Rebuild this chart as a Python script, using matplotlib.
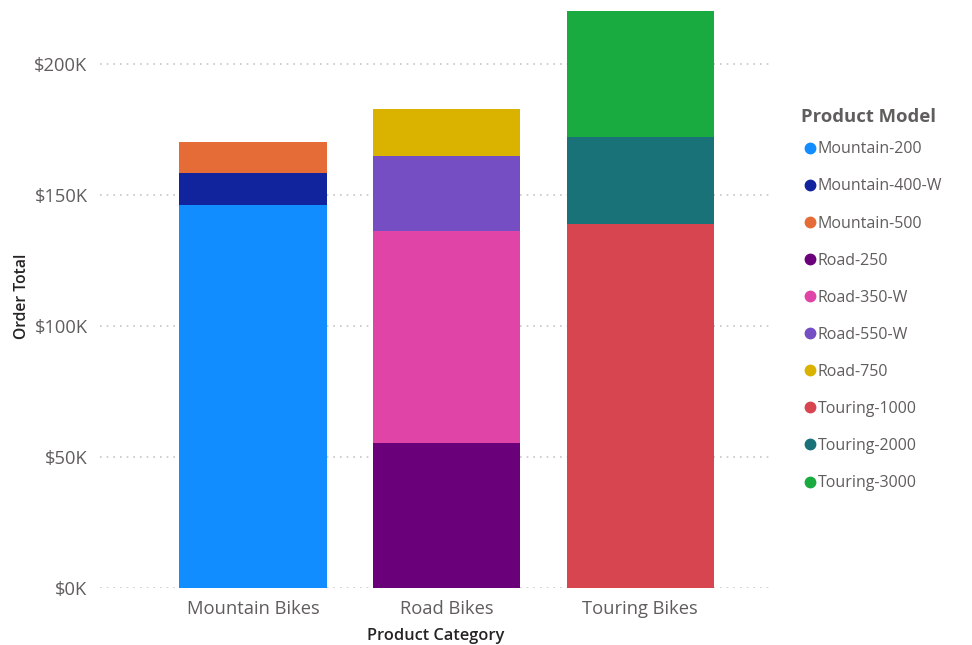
import matplotlib
matplotlib.use("Agg")
import matplotlib.pyplot as plt
from matplotlib.lines import Line2D
import numpy as np

plt.rcParams["font.family"] = ["Open Sans", "DejaVu Sans"]

# 数据（单位：千美元）
categories = ["Mountain Bikes", "Road Bikes", "Touring Bikes"]
models = ["Mountain-200", "Mountain-400-W", "Mountain-500", "Road-250", "Road-350-W",
          "Road-550-W", "Road-750", "Touring-1000", "Touring-2000", "Touring-3000"]
colors = ["#118DFF", "#12239E", "#E66C37", "#6B007B", "#E044A7",
          "#744EC2", "#D9B300", "#D64550", "#197278", "#1AAB40"]
# 每个型号对应的类别和金额
model_category = [0, 0, 0, 1, 1, 1, 1, 2, 2, 2]
model_value = [146.3, 12.2, 11.8, 55.2, 81.0, 28.6, 17.9, 138.9, 33.3, 48.0]
yticks = [0, 50, 100, 150, 200]

fig = plt.figure(figsize=(9.72, 6.45), dpi=100)
ax = fig.add_axes([100 / 972, 57 / 645, 672 / 972, 583 / 645])

bottoms = np.zeros(len(categories))
for m, c, cat, v in zip(models, colors, model_category, model_value):
    ax.bar(cat, v, bottom=bottoms[cat], width=0.76, color=c, zorder=2)
    bottoms[cat] += v

ax.set_xlim(-0.79, 2.68)
ax.set_ylim(0, 222.5)
ax.set_yticks(yticks)
ax.set_yticklabels(["${}K".format(t) for t in yticks])
ax.set_xticks(range(len(categories)))
ax.set_xticklabels(categories)
ax.tick_params(axis="both", length=0, labelsize=13.2, colors="#605E5C")
ax.tick_params(axis="y", pad=9)
ax.tick_params(axis="x", pad=9)
ax.grid(axis="y", color="#C8C6C4", linestyle=(0, (1, 3)), linewidth=1.2, zorder=0)
for s in ax.spines.values():
    s.set_visible(False)

ax.set_xlabel("Product Category", fontsize=11.8, color="#252423", labelpad=7, fontweight="semibold")
ax.set_ylabel("Order Total", fontsize=11.3, color="#252423", labelpad=3, fontweight="semibold")

# 图例：标题单独写
fig.text(801 / 972, 1 - 117 / 645, "Product Model", fontsize=13.3, fontweight="bold",
         color="#605E5C", va="center", ha="left")
handles = [Line2D([], [], marker="o", linestyle="", markersize=7.5, color=c) for c in colors]
leg = fig.legend(handles, models, loc="upper left", bbox_to_anchor=(794 / 972, 1 - 135 / 645),
                 frameon=False, fontsize=11.5, handletextpad=-0.1,
                 labelspacing=1.32, borderaxespad=0, handlelength=1.2)
for t in leg.get_texts():
    t.set_color("#605E5C")

fig.savefig("out.png", dpi=100)
